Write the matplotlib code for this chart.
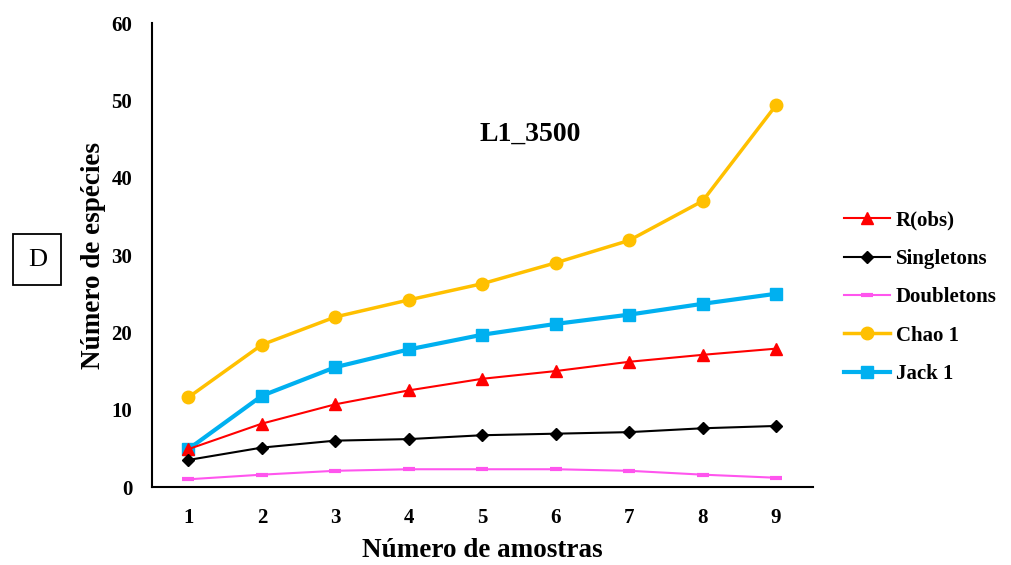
import numpy as np
import matplotlib
matplotlib.use("Agg")
import matplotlib.pyplot as plt

plt.rcParams['font.family'] = ['Liberation Serif', 'DejaVu Serif']

amostras = [1, 2, 3, 4, 5, 6, 7, 8, 9]
r_obs = [4.9, 8.2, 10.7, 12.5, 14.0, 15.0, 16.2, 17.1, 17.9]
singletons = [3.5, 5.1, 6.0, 6.2, 6.7, 6.9, 7.1, 7.6, 7.9]
doubletons = [1.0, 1.6, 2.1, 2.3, 2.3, 2.3, 2.1, 1.6, 1.2]
chao1 = [11.6, 18.4, 22.0, 24.2, 26.3, 29.0, 31.9, 37.0, 49.4]
jack1 = [4.9, 11.8, 15.5, 17.8, 19.7, 21.1, 22.3, 23.7, 25.0]

fig = plt.figure(figsize=(10.11, 5.65), dpi=100)
ax = fig.add_axes([0.150, 0.138, 0.654, 0.821])

ax.plot(amostras, r_obs, color='#FF0000', lw=1.5, marker='^', ms=8, label='R(obs)', zorder=4)
ax.plot(amostras, singletons, color='black', lw=1.5, marker='D', ms=6, label='Singletons', zorder=4)
ax.plot(amostras, doubletons, color='#FF55EE', lw=1.5, marker='_', ms=9, mew=3, label='Doubletons', zorder=4)
ax.plot(amostras, chao1, color='#FFC000', lw=2.5, marker='o', ms=9, label='Chao 1', zorder=3)
ax.plot(amostras, jack1, color='#00B0F0', lw=3, marker='s', ms=9, label='Jack 1', zorder=3)

ax.set_xlim(0.5, 9.5)
ax.set_ylim(0, 60)
ax.set_yticks(range(0, 61, 10))
ax.set_xticks(amostras)
ax.tick_params(length=0, labelsize=15)
ax.tick_params(axis='y', pad=14)
ax.tick_params(axis='x', pad=15)
for lab in ax.get_xticklabels() + ax.get_yticklabels():
    lab.set_fontweight('bold')

for side in ['top', 'right']:
    ax.spines[side].set_visible(False)
for side in ['left', 'bottom']:
    ax.spines[side].set_linewidth(1.5)

ax.set_xlabel('Número de amostras', fontsize=19.5, fontweight='bold', labelpad=7)
ax.set_ylabel('Número de espécies', fontsize=19.5, fontweight='bold', labelpad=4)
ax.text(5.65, 45.6, 'L1_3500', fontsize=20, fontweight='bold', ha='center', va='center')

leg = fig.legend(loc='center left', bbox_to_anchor=(0.816, 0.474), frameon=False,
                 prop={'weight': 'bold', 'size': 15}, handlelength=2.2,
                 labelspacing=0.88, handletextpad=0.3)

fig.text(0.037, 0.54, 'D', fontsize=19, ha='center', va='center',
         bbox=dict(boxstyle='square,pad=0.55', fc='white', ec='black', lw=1.3))

fig.savefig('out.png', dpi=100)
